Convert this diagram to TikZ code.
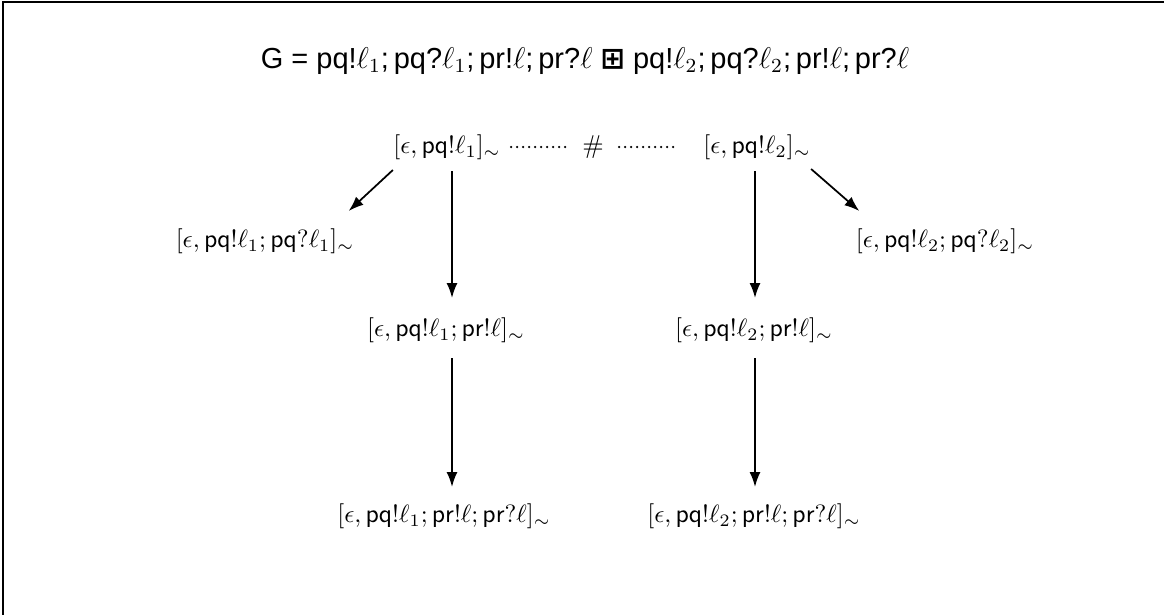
\documentclass[tikz,border=0pt]{standalone}
\usepackage{amssymb}
\usepackage{fontspec}
\newfontfamily\helv{Liberation Sans}
\newfontfamily\dejavu{DejaVu Sans}
\usetikzlibrary{arrows.meta}
\begin{document}
\begin{tikzpicture}[x=0.4pt,y=-0.4pt,
  lbl/.style={inner sep=0pt, font=\fontsize{10.3}{12}\selectfont},
  arr/.style={-{Latex[length=6pt,width=4.4pt]}, line width=0.7pt},
  dotline/.style={line width=1pt, line cap=round, dash pattern=on 0pt off 2.4pt}]
\useasboundingbox (0,0) rectangle (1164,614);
\draw[line width=0.8pt] (3,2) rectangle (1400,800);
\node[lbl, font=\helv\fontsize{11.6}{14}\selectfont] (t) at (585,61)
  {G = pq!$\ell_1$;\,pq?$\ell_1$;\,pr!$\ell$;\,pr?$\ell$ {\dejavu\bfseries ⊞} pq!$\ell_2$;\,pq?$\ell_2$;\,pr!$\ell$;\,pr?$\ell$};
\node[lbl] (a) at (447,147) {$[\epsilon, \mathsf{pq!}\ell_1]_\sim$};
\node[lbl] (h) at (593,147) {$\#$};
\node[lbl] (b) at (757,147) {$[\epsilon, \mathsf{pq!}\ell_2]_\sim$};
\node[lbl] (c) at (265,241) {$[\epsilon, \mathsf{pq!}\ell_1; \mathsf{pq?}\ell_1]_\sim$};
\node[lbl] (d) at (945,241) {$[\epsilon, \mathsf{pq!}\ell_2; \mathsf{pq?}\ell_2]_\sim$};
\node[lbl] (e) at (446,330) {$[\epsilon, \mathsf{pq!}\ell_1; \mathsf{pr!}\ell]_\sim$};
\node[lbl] (f) at (754,330) {$[\epsilon, \mathsf{pq!}\ell_2; \mathsf{pr!}\ell]_\sim$};
\node[lbl] (g) at (444,516) {$[\epsilon, \mathsf{pq!}\ell_1; \mathsf{pr!}\ell; \mathsf{pr?}\ell]_\sim$};
\node[lbl] (k) at (754,516) {$[\epsilon, \mathsf{pq!}\ell_2; \mathsf{pr!}\ell; \mathsf{pr?}\ell]_\sim$};
% dotted connectors
\draw[dotline, shorten <=4pt, shorten >=6pt] (a.east) -- (h.west);
\draw[dotline, shorten <=6pt, shorten >=10pt] (h.east) -- (b.west);
% vertical arrows
\draw[arr, shorten <=4.4pt, shorten >=7.6pt] ([xshift=2pt]a.south) -- ([xshift=2pt]a.south |- e.north);
\draw[arr, shorten <=4.4pt, shorten >=7.6pt] ([xshift=-0.8pt]b.south) -- ([xshift=-0.8pt]b.south |- f.north);
\draw[arr, shorten <=6pt, shorten >=6.4pt] ([xshift=2.4pt]e.south) -- ([xshift=2.4pt]e.south |- g.north);
\draw[arr, shorten <=6pt, shorten >=6.4pt] ([xshift=0.4pt]f.south) -- ([xshift=0.4pt]f.south |- k.north);
% diagonal arrows
\draw[arr] ([yshift=-4pt]a.south west) -- ([xshift=-2.4pt,yshift=6.8pt]c.north east);
\draw[arr] ([yshift=-3.6pt]b.south east) -- ([xshift=1.6pt,yshift=6.8pt]d.north west);
\end{tikzpicture}
\end{document}
